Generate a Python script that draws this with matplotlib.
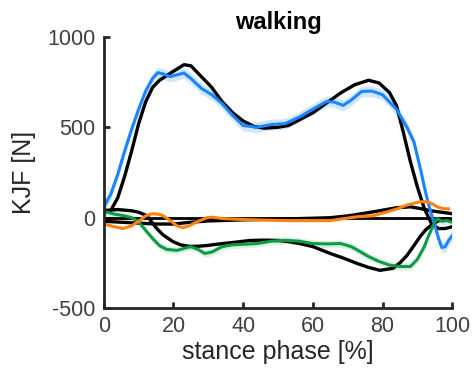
import numpy as np
import matplotlib
matplotlib.use("Agg")
import matplotlib.pyplot as plt

plt.rcParams['font.family'] = ['Liberation Sans', 'DejaVu Sans']
plt.rcParams['axes.unicode_minus'] = False

# reference (black) curves
vert_x = [0, 2, 4, 6, 8, 10, 12, 14, 16, 18, 20, 23, 25, 28, 31, 34, 37, 40, 43, 46, 50,
          53, 56, 60, 64, 68, 72, 76, 79, 82, 84, 86, 88, 90, 92, 94, 96, 98, 100]
vert_ref = [30, 40, 110, 230, 370, 520, 640, 720, 760, 785, 810, 846, 840, 780, 720, 640,
            580, 535, 505, 495, 500, 510, 540, 580, 635, 690, 735, 760, 745, 692, 620, 470,
            310, 170, 50, -30, -60, -60, -50]

ap_x = [0, 4, 8, 10, 12.4, 14, 15.2, 17, 19.8, 22, 24.7, 27, 29.6, 32, 34.2, 38, 42, 46, 50,
        53, 56.3, 60, 65, 69, 72.7, 76, 79.3, 83, 85, 87, 89, 90.8, 92.5, 94.5, 97.4, 100]
ap_ref = [40, 45, 38, 30, 11, -30, -60, -95, -132, -150, -159, -158, -154, -148, -143, -135,
          -126, -124, -126, -132, -143, -160, -198, -225, -253, -275, -291, -280, -250, -209,
          -155, -104, -65, -33, -5, -10]

ml_x = [0, 5, 10, 15, 20, 25, 30, 40, 50, 60, 65, 70, 75, 79, 84, 88, 91, 94, 97, 100]
ml_ref = [-20, -25, -30, -35, -35, -25, -18, -12, -8, -3, 0, 10, 25, 38, 55, 60, 50, 38, 30, 22]

# predicted curves
blue_x = [0, 2, 4, 6, 8, 10, 12, 14, 15.5, 17, 19, 21, 23, 25, 28, 31, 34, 37, 40, 44, 48, 52,
          56, 60, 64, 66, 68.7, 71, 74, 77, 80, 84, 87, 89, 90, 91, 92, 93, 94, 95, 96, 97, 98,
          99, 100]
blue_y = [60, 130, 240, 370, 490, 600, 700, 770, 802, 795, 780, 790, 800, 770, 715, 680, 630,
          565, 510, 500, 515, 520, 555, 600, 643, 640, 621, 650, 698, 700, 680, 600, 500, 420,
          340, 260, 170, 90, 20, -40, -110, -165, -160, -125, -100]

green_x = [0, 3, 6, 8, 10, 12, 14, 16, 18, 21, 23, 25, 27, 29, 31, 34, 37, 40, 44, 48, 52, 56,
           60, 64, 68, 71, 73, 76, 79, 82, 85, 88, 90, 92, 93, 94.5, 95.7, 97, 98.5, 100]
green_y = [35, 20, 10, 0, -22, -70, -115, -155, -175, -181, -170, -160, -175, -198, -190, -160,
           -150, -147, -143, -130, -125, -130, -143, -145, -143, -160, -181, -215, -242, -262,
           -270, -270, -230, -160, -110, -44, -5, -20, -16, -25]

orange_x = [0, 3, 5.5, 8, 10.3, 12, 13.8, 15.5, 17, 19, 21, 22.7, 24.5, 26, 27.6, 29.6, 31,
            34.2, 40, 47, 53, 60, 65, 69, 72.7, 77.3, 81, 84.2, 87, 90.8, 92.8, 94.5, 95.7,
            97.5, 99]
orange_y = [-35, -50, -60, -45, -16, 10, 22, 20, 11, -15, -45, -55, -45, -30, -16, 0, 3, -5,
            -10, -14, -16, -16, -16, -5, 5, 11, 30, 49, 70, 88, 88, 75, 60, 50, 49]

blue_c = '#1a85ff'
green_c = '#0f9a48'
orange_c = '#ff8210'

fig = plt.figure(figsize=(4.74, 3.92), dpi=100)
ax = fig.add_axes([0.219, 0.214, 0.735, 0.692])

# spread bands around the predicted vertical / AP curves
ax.fill_between(blue_x, np.array(blue_y) - 30, np.array(blue_y) + 30, color=blue_c,
                alpha=0.2, lw=0)
ax.fill_between(green_x, np.array(green_y) - 20, np.array(green_y) + 20, color=green_c,
                alpha=0.15, lw=0)

ax.plot([0, 100], [0, 0], color='k', lw=2)
ax.plot(vert_x, vert_ref, color='k', lw=2.4)
ax.plot(ap_x, ap_ref, color='k', lw=2.4)
ax.plot(ml_x, ml_ref, color='k', lw=2.4)
ax.plot(blue_x, blue_y, color=blue_c, lw=2.2)
ax.plot(green_x, green_y, color=green_c, lw=2.2)
ax.plot(orange_x, orange_y, color=orange_c, lw=2.2)

ax.set_xlim(0, 100)
ax.set_ylim(-500, 1000)
ax.set_xticks([0, 20, 40, 60, 80, 100])
ax.set_yticks([-500, 0, 500, 1000])

for s in ['top', 'right']:
    ax.spines[s].set_visible(False)
for s in ['left', 'bottom']:
    ax.spines[s].set_linewidth(2)
    ax.spines[s].set_color('#262626')
ax.tick_params(direction='in', length=4, width=2, color='#262626',
               labelsize=15.5, labelcolor='#404040', pad=6)

ax.set_xlabel('stance phase [%]', fontsize=18, color='#262626', labelpad=2)
ax.set_ylabel('KJF [N]', fontsize=18, color='#262626', labelpad=8)
ax.set_title('walking', fontsize=17, fontweight='bold', pad=6)

fig.savefig('out.png', dpi=100)
